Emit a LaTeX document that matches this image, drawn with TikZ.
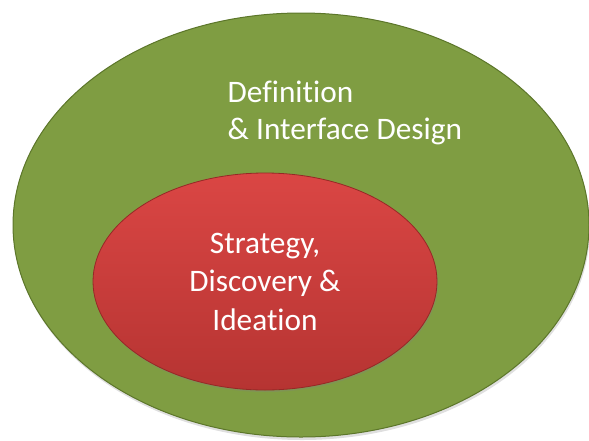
\documentclass[tikz,border=0pt]{standalone}
\usepackage{fontspec}
\setmainfont{Carlito}[Ligatures = CommonOff]
\usetikzlibrary{shapes.geometric,shadows}
\definecolor{olivefill}{RGB}{127,157,66}
\definecolor{oliveedge}{RGB}{92,118,42}
\definecolor{redtop}{RGB}{218,70,68}
\definecolor{redbottom}{RGB}{182,52,50}
\definecolor{rededge}{RGB}{150,40,38}
\begin{document}
\begin{tikzpicture}
          [x = 1pt, y = -1pt,
           ring/.style = {ellipse, inner sep = 0pt},
           outerring/.style = {ring, fill = olivefill, draw = oliveedge, line width = 1pt,
             drop shadow = {opacity = 0.25, shadow xshift = 1pt, shadow yshift = -3pt}},
           innerring/.style = {ring, top color = redtop, bottom color = redbottom,
             draw = rededge, line width = 0.8pt,
             drop shadow = {opacity = 0.3, shadow xshift = 1pt, shadow yshift = -2pt}},
           caption/.style = {text = white, inner sep = 0pt,
             font = \fontsize{31.3}{37}\selectfont}]
          \useasboundingbox (0,0) rectangle (589,440);
          \node[outerring, minimum width = 576pt, minimum height = 424pt] (design) at (301,225) {};
          \node[innerring, minimum width = 344pt, minimum height = 217pt] (strategy) at (265,281.5) {};
          \node[caption, align = left, anchor = north west] (designtext) at (227.5,80.5)
            {Definition\\\& Interface Design};
          \node[caption, align = center, font = \fontsize{31.3}{38.5}\selectfont] (strategytext) at (strategy)
            {Strategy,\\Discovery \&\\Ideation};
        \end{tikzpicture}
\end{document}
